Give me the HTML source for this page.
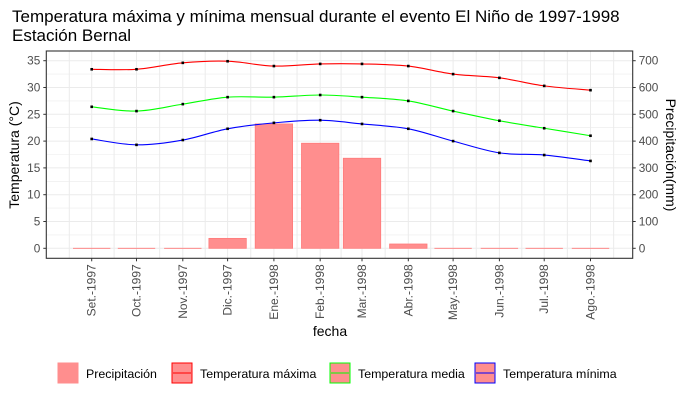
<!DOCTYPE html>
<html><head><meta charset="utf-8"><style>
body{margin:0;background:#fff;font-family:"Liberation Sans",sans-serif}
svg{display:block}
</style></head><body>
<svg id="c" width="687" height="400" xmlns="http://www.w3.org/2000/svg" font-family="Liberation Sans, sans-serif">
<text x="12" y="22" font-size="17" fill="#000">Temperatura máxima y mínima mensual durante el evento El Niño de 1997-1998</text>
<text x="12" y="41" font-size="17" fill="#000">Estación Bernal</text>
<g id="grid"></g><g id="bars"></g><g id="lines"></g><g id="axes"></g>
<rect x="46.3" y="51" width="586.4" height="207.3" fill="none" stroke="#333" stroke-width="1.1"/>
<text x="330" y="336" font-size="14" text-anchor="middle">fecha</text>
<text transform="translate(19,155) rotate(-90)" font-size="14" text-anchor="middle">Temperatura (°C)</text>
<text transform="translate(666,155) rotate(90)" font-size="14" text-anchor="middle">Precipitación(mm)</text>
<g id="legend" font-size="12"></g>
</svg>
<script>
const months=["Set.-1997","Oct.-1997","Nov.-1997","Dic.-1997","Ene.-1998","Feb.-1998","Mar.-1998","Abr.-1998","May.-1998","Jun.-1998","Jul.-1998","Ago.-1998"];
const days=[0,30,61,91,122,153,181,212,242,273,303,334];
const tmax=[33.4,33.4,34.6,34.9,34.0,34.4,34.4,34.0,32.5,31.8,30.3,29.5];
const tmed=[26.4,25.6,26.9,28.2,28.2,28.6,28.2,27.5,25.6,23.8,22.4,21.0];
const tmin=[20.4,19.3,20.2,22.3,23.4,23.9,23.2,22.3,20.0,17.8,17.4,16.3];
const precip=[0,0,0,37,464,392,336,16,0,0,0,0];
const tempTicks=[0,5,10,15,20,25,30,35];
const precTicks=[0,100,200,300,400,500,600,700];
const NS="http://www.w3.org/2000/svg";
const L=46.3,R=632.7,T=51,B=258.3;
const x=d=>91.7+d*(590.5-91.7)/334;
const y=t=>248.3-t*(248.3-60.7)/35;
const yp=p=>y(p/20);
function mk(tag,at,parent){const e=document.createElementNS(NS,tag);for(const k in at)e.setAttribute(k,at[k]);document.getElementById(parent).appendChild(e);return e;}
for(let t=-2.5;t<=37.5;t+=2.5){const yy=y(t);if(yy<T||yy>B)continue;
 const g=mk('line',{x1:L,x2:R,y1:yy,y2:yy,stroke:'#ebebeb','stroke-width':t%5===0?1:0.6},'grid');
 
 }
const xs=days.map(x);
const vg=[...xs];for(let i=0;i<xs.length-1;i++)vg.push((xs[i]+xs[i+1])/2);vg.push(xs[0]-(xs[1]-xs[0])/2);vg.push(xs[11]+(xs[11]-xs[10])/2);
vg.forEach(v=>{const g=mk('line',{x1:v,x2:v,y1:T,y2:B,stroke:'#ebebeb','stroke-width':1},'grid');
 
 });
precip.forEach((p,i)=>{const top=yp(p),h=yp(0)-top;
 let b;
 if(h<1){b=mk('line',{x1:xs[i]-18.7,x2:xs[i]+18.7,y1:yp(0),y2:yp(0),stroke:'#ff7a7a','stroke-width':0.8},'bars');}
 else{b=mk('rect',{x:xs[i]-18.7,y:top,width:37.4,height:h,fill:'#ff8e8e',stroke:'#ff7a7a','stroke-width':0.8},'bars');}
 
 });
function smooth(vals){let d='';for(let i=0;i<vals.length;i++){const px=xs[i],py=y(vals[i]);
 if(i===0){d+=`M${px},${py}`;continue;}
 const p0=[xs[Math.max(i-2,0)],y(vals[Math.max(i-2,0)])],p1=[xs[i-1],y(vals[i-1])],p2=[px,py],p3=[xs[Math.min(i+1,vals.length-1)],y(vals[Math.min(i+1,vals.length-1)])];
 const c1=[p1[0]+(p2[0]-p0[0])/6,p1[1]+(p2[1]-p0[1])/6],c2=[p2[0]-(p3[0]-p1[0])/6,p2[1]-(p3[1]-p1[1])/6];
 d+=`C${c1[0]},${c1[1]} ${c2[0]},${c2[1]} ${p2[0]},${p2[1]}`;}return d;}
[[tmax,'#ff0000','line-tmax'],[tmed,'#00ff00','line-tmed'],[tmin,'#0000ff','line-tmin']].forEach(([v,c,n])=>{
 const p=mk('path',{d:smooth(v),fill:'none',stroke:c,'stroke-width':1.1},'lines');
 
 
 v.forEach((t,i)=>{const q=mk('rect',{x:xs[i]-1.3,y:y(t)-1.3,width:2.6,height:2.6,fill:'#000'},'lines');
  
  });});
tempTicks.forEach(t=>{mk('line',{x1:L-3,x2:L,y1:y(t),y2:y(t),stroke:'#333'},'axes');
 const tx=mk('text',{x:L-6,y:y(t)+4,'font-size':11.8,'text-anchor':'end',fill:'#4d4d4d'},'axes');tx.textContent=t;
 
 });
precTicks.forEach(p=>{mk('line',{x1:R,x2:R+3,y1:yp(p),y2:yp(p),stroke:'#333'},'axes');
 const tx=mk('text',{x:R+6,y:yp(p)+4,'font-size':11.8,fill:'#4d4d4d'},'axes');tx.textContent=p;
 
 });
months.forEach((m,i)=>{mk('line',{x1:xs[i],x2:xs[i],y1:B,y2:B+3,stroke:'#333'},'axes');
 const tx=mk('text',{transform:`translate(${xs[i]+4},${B+6}) rotate(-90)`,'font-size':12,'text-anchor':'end',fill:'#4d4d4d'},'axes');tx.textContent=m;
 
 });
const leg=[["Precipitación",null,58],["Temperatura máxima","#ff0000",172],["Temperatura media","#00ff00",330],["Temperatura mínima","#0000ff",475]];
leg.forEach(([lab,c,lx])=>{
 const r=mk('rect',{x:lx,y:363,width:20,height:20,fill:'#ff8e8e',stroke:c||'#ff8e8e','stroke-width':1},'legend');
 
 
 if(c){mk('line',{x1:lx+1,x2:lx+19,y1:373,y2:373,stroke:c,'stroke-width':1.1},'legend');}
 const t=mk('text',{x:lx+28,y:378,'font-size':12.4},'legend');t.textContent=lab;
 
 });
</script>
</body></html>
